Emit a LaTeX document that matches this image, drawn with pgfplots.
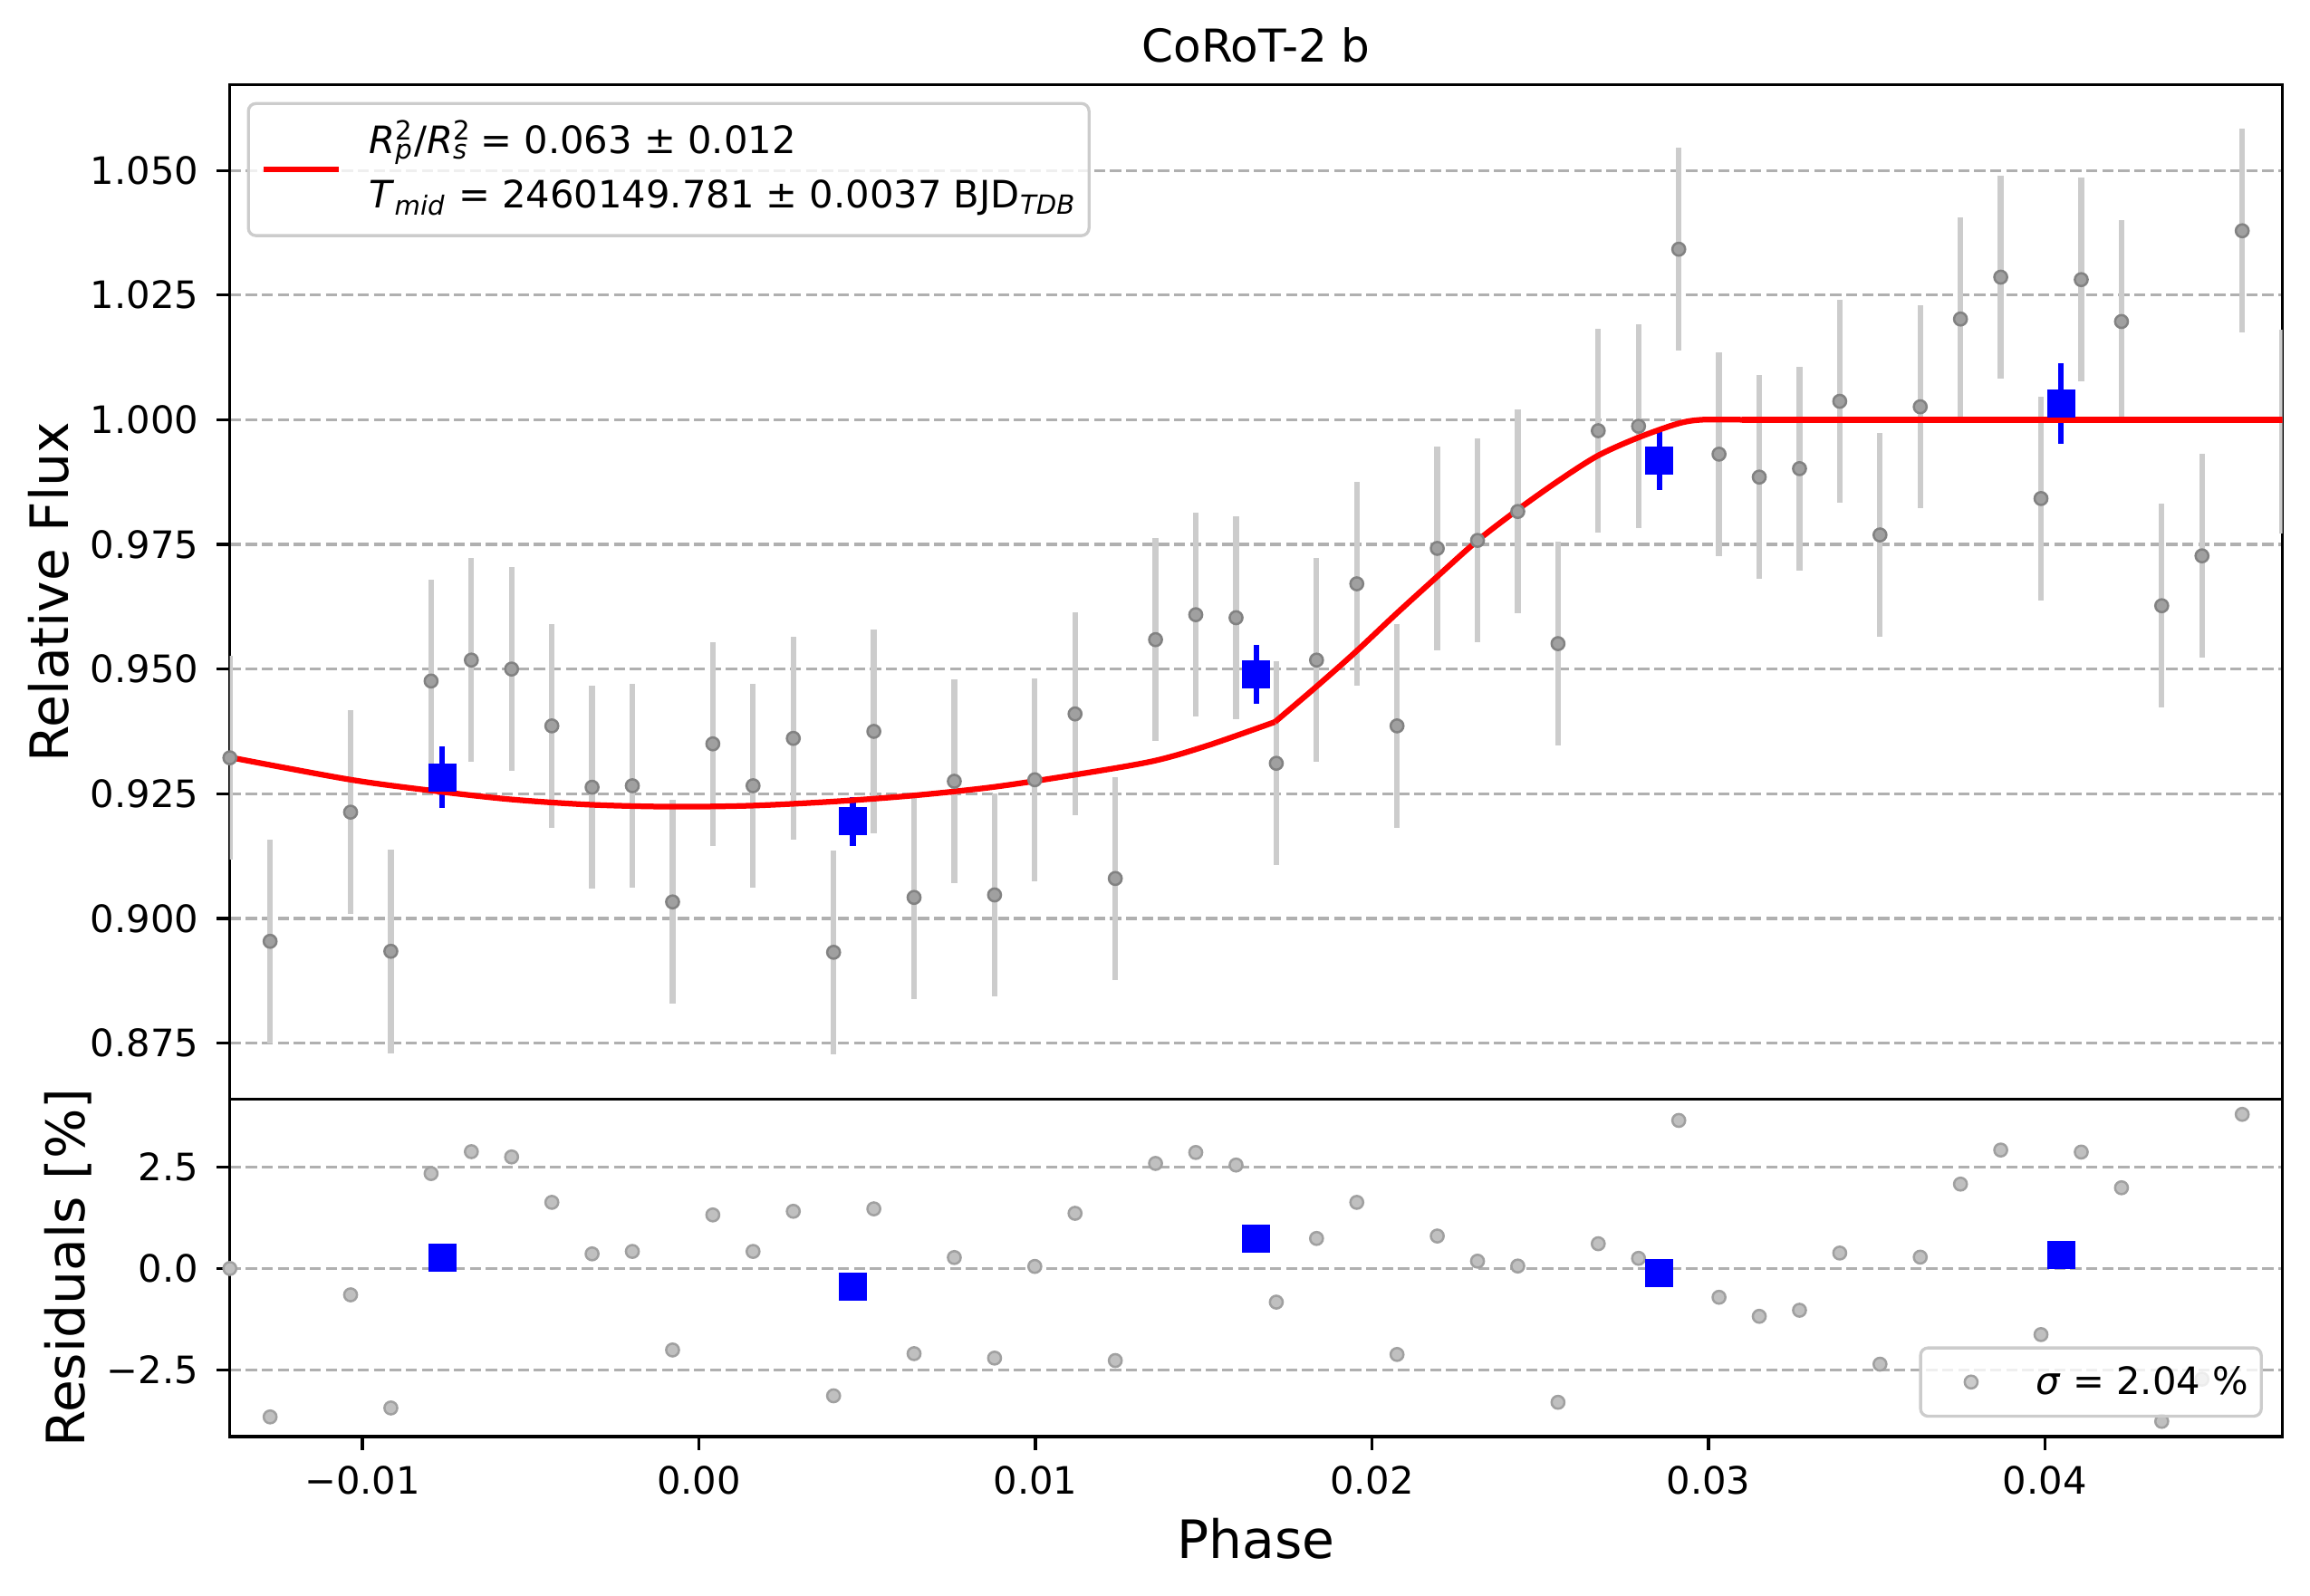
\documentclass[border=0pt]{standalone}
\usepackage{fontspec}
\setmainfont{DejaVu Sans}
\usepackage{pgfplots}
\usepackage{pgfplotstable}
\pgfplotsset{compat=1.18}

\definecolor{gridc}{RGB}{176,176,176}
\definecolor{errc}{RGB}{204,204,204}
\definecolor{ptfill}{RGB}{160,160,160}
\definecolor{ptdraw}{RGB}{130,130,130}
\definecolor{rfill}{RGB}{192,192,192}
\definecolor{rdraw}{RGB}{160,160,160}
\definecolor{legc}{RGB}{204,204,204}

\newcommand\supsub[2]{\rlap{\textsuperscript{#1}}\textsubscript{\textit{#2}}}
\newsavebox\legbox

\pgfplotstableread{
x y e
-0.013940 0.9322 0.0204
-0.012744 0.8954 0.0204
-0.010352 0.9213 0.0204
-0.009156 0.8934 0.0204
-0.007960 0.9476 0.0204
-0.006763 0.9518 0.0204
-0.005567 0.9500 0.0204
-0.004371 0.9386 0.0204
-0.003175 0.9263 0.0204
-0.001979 0.9266 0.0204
-0.000783 0.9033 0.0204
0.000413 0.9350 0.0204
0.001609 0.9266 0.0204
0.002805 0.9361 0.0204
0.004002 0.8932 0.0204
0.005198 0.9375 0.0204
0.006394 0.9042 0.0204
0.007590 0.9275 0.0204
0.008786 0.9047 0.0204
0.009982 0.9278 0.0204
0.011178 0.9410 0.0204
0.012374 0.9080 0.0204
0.013570 0.9559 0.0204
0.014766 0.9609 0.0204
0.015963 0.9603 0.0204
0.017159 0.9311 0.0204
0.018355 0.9518 0.0204
0.019551 0.9671 0.0204
0.020747 0.9386 0.0204
0.021943 0.9742 0.0204
0.023139 0.9758 0.0204
0.024335 0.9816 0.0204
0.025531 0.9551 0.0204
0.026727 0.9978 0.0204
0.027924 0.9987 0.0204
0.029120 1.0342 0.0204
0.030316 0.9931 0.0204
0.031512 0.9885 0.0204
0.032708 0.9902 0.0204
0.033904 1.0037 0.0204
0.035100 0.9769 0.0204
0.036296 1.0026 0.0204
0.037492 1.0202 0.0204
0.038688 1.0286 0.0204
0.039885 0.9842 0.0204
0.041081 1.0281 0.0204
0.042277 1.0197 0.0204
0.043473 0.9627 0.0204
0.044669 0.9727 0.0204
0.045865 1.0379 0.0204
0.047061 0.9976 0.0204
}\fluxtab

\pgfplotstableread{
x r
-0.013940 0.00
-0.012744 -3.66
-0.010352 -0.65
-0.009156 -3.44
-0.007960 2.34
-0.006763 2.88
-0.005567 2.75
-0.004371 1.63
-0.003175 0.36
-0.001979 0.42
-0.000783 -2.01
0.000413 1.32
0.001609 0.42
0.002805 1.41
0.004002 -3.14
0.005198 1.47
0.006394 -2.10
0.007590 0.27
0.008786 -2.21
0.009982 0.05
0.011178 1.36
0.012374 -2.27
0.013570 2.59
0.014766 2.86
0.015963 2.55
0.017159 -0.83
0.018355 0.74
0.019551 1.63
0.020747 -2.12
0.021943 0.80
0.023139 0.18
0.024335 0.06
0.025531 -3.30
0.026727 0.61
0.027924 0.25
0.029120 3.65
0.030316 -0.71
0.031512 -1.18
0.032708 -1.03
0.033904 0.38
0.035100 -2.36
0.036296 0.28
0.037492 2.08
0.038688 2.92
0.039885 -1.63
0.041081 2.87
0.042277 1.99
0.043473 -3.77
0.044669 -2.73
0.045865 3.80
0.047061 -0.24
}\restab

\pgfplotstableread{
x y e r
-0.007625 0.9283 0.0062 0.27
0.004576 0.9195 0.0049 -0.45
0.016561 0.9489 0.0059 0.74
0.028546 0.9918 0.0059 -0.11
0.040483 1.0033 0.0081 0.34
}\bintab

\pgfplotsset{
  mystyle/.style={
    scale only axis, width=543.8bp,
    xmin=-0.01394, xmax=0.04706,
    scaled ticks=false,
    axis line style={line width=0.8bp},
    every tick/.style={line width=0.8bp, black},
    major tick length=3.5bp,
    tick align=outside,
    tick pos=left,
    ymajorgrids,
    grid style={gridc, line width=0.8bp, dash pattern=on 2.96bp off 1.28bp},
    ticklabel style={font=\fontsize{10bp}{12bp}\selectfont},
    yticklabel style={anchor=east, inner sep=0pt, xshift=-4.6bp},
    xticklabel style={anchor=north, inner sep=0pt, yshift=-4.2bp},
    label style={font=\fontsize{14bp}{17bp}\selectfont, inner sep=0pt},
    every axis title shift=0pt,
    legend cell align=left,
    legend image code/.code={\path[draw=none,fill=none] (0bp,-1bp) rectangle (20bp,1bp);\draw[mark repeat=2,mark phase=2,##1] plot coordinates {(0bp,0bp) (10bp,0bp) (20bp,0bp)};},
    legend style={draw=legc, line width=0.8bp, rounded corners=2bp, fill=white,
      fill opacity=0.8, text opacity=1, draw opacity=1,
      font=\fontsize{10bp}{12bp}\selectfont,
      nodes={inner sep=0pt, text depth=, text height=},
      /tikz/every odd column/.append style={column sep=7.2bp}},
  }
}

\begin{document}
\sbox\legbox{\fontsize{10bp}{12bp}\selectfont\renewcommand\arraystretch{1.2}\begin{tabular}{@{}l@{}}\textit{R}\supsub{2}{p}/\textit{R}\supsub{2}{s} = 0.063 ± 0.012\\\textit{T}\textsubscript{\textit{mid}} = 2460149.781 ± 0.0037 BJD\textsubscript{\textit{TDB}}\end{tabular}}%
\begin{tikzpicture}
\path[use as bounding box] (-60.9bp,-42bp) rectangle (551.1bp,380.64bp);

% top panel
\begin{axis}[mystyle,
  at={(0,89.4bp)}, anchor=south west, height=268.8bp,
  ymin=0.86374, ymax=1.0672,
  xtick=\empty,
  ytick={0.875,0.9,0.925,0.95,0.975,1.0,1.025,1.05},
  yticklabels={0.875,0.900,0.925,0.950,0.975,1.000,1.025,1.050},
  title={CoRoT-2 b},
  title style={at={(axis description cs:0.5,1.0227)}, anchor=base, inner sep=0pt, font=\fontsize{12bp}{14bp}\selectfont},
  ylabel={Relative Flux},
  ylabel style={at={(axis description cs:-0.07889,0.5)}, anchor=base},
  legend style={at={(axis description cs:0.00828,0.98289)}, anchor=north west, inner xsep=3.3bp, inner ysep=3.1bp},
]
\addplot[forget plot, only marks, mark=*, mark size=1.7bp,
  mark options={fill=ptfill, draw=ptdraw, line width=0.6bp},
  error bars/.cd, y dir=both, y explicit, error mark=none,
  error bar style={errc, line width=1.5bp}]
  table[x=x, y=y, y error=e] {\fluxtab};
\addplot[forget plot, only marks, mark=square*, mark size=3.5bp, blue,
  error bars/.cd, y dir=both, y explicit, error mark=none,
  error bar style={blue, line width=1.5bp}]
  table[x=x, y=y, y error=e] {\bintab};
\addplot[red, line width=1.5bp, smooth, tension=0.5] coordinates {
(-0.01394,0.9323) (-0.01043,0.9279) (-0.00804,0.9257) (-0.00565,0.9239)
(-0.00325,0.9228) (-0.00086,0.9224) (0.00153,0.9226) (0.00392,0.9234)
(0.00631,0.9246) (0.00870,0.9263) (0.01108,0.9287) (0.01347,0.9315)
(0.01509,0.9346) (0.01712,0.9394)};
\addlegendentry{\usebox\legbox}
\addplot[forget plot, red, line width=1.5bp, smooth, tension=0.5] coordinates {
(0.01712,0.9394) (0.01832,0.9463) (0.01951,0.9534) (0.02071,0.9610)
(0.02190,0.9683) (0.02311,0.9756) (0.02428,0.9817) (0.02551,0.9876)
(0.02669,0.9927) (0.02787,0.9963) (0.02908,0.9992) (0.02981,1.0000) (0.03100,1.0000)};
\addplot[forget plot, red, line width=1.5bp] coordinates {(0.03100,1.0000) (0.04706,1.0000)};
\end{axis}

% residual panel
\begin{axis}[mystyle,
  at={(0,0)}, anchor=south west, height=89.4bp,
  ymin=-4.145, ymax=4.174,
  ytick={-2.5,0,2.5},
  yticklabels={−2.5,0.0,2.5},
  xtick={-0.01,0,0.01,0.02,0.03,0.04},
  xticklabels={−0.01,0.00,0.01,0.02,0.03,0.04},
  xlabel={Phase},
  xlabel style={at={(axis description cs:0.5,-0.3602)}, anchor=base},
  ylabel={Residuals [\%]},
  ylabel style={at={(axis description cs:-0.07062,0.5)}, anchor=base},
  legend style={at={(axis description cs:0.99044,0.05593)}, anchor=south east, inner xsep=3.4bp, inner ysep=4.2bp},
]
\addplot[only marks, mark=*, mark size=1.7bp,
  mark options={fill=rfill, draw=rdraw, line width=0.6bp}]
  table[x=x, y=r] {\restab};
\addlegendentry{\rule[-1.5bp]{0pt}{9.7bp}\textit{σ} = 2.04 \%}
\addplot[forget plot, only marks, mark=square*, mark size=3.5bp, blue]
  table[x=x, y=r] {\bintab};
\end{axis}
\end{tikzpicture}
\end{document}
